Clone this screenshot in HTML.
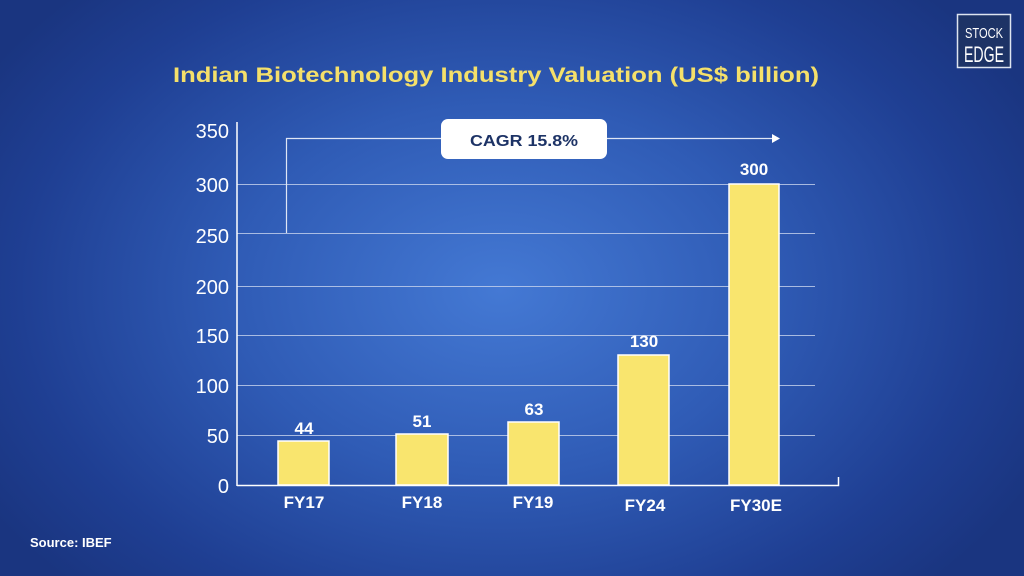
<!DOCTYPE html>
<html><head><meta charset="utf-8"><style>
html,body{margin:0;padding:0}
body{width:1024px;height:576px;overflow:hidden;background:radial-gradient(ellipse 600px 420px at 500px 290px,#4479d4 0%,#2f5bb5 45%,#1f3f93 80%,#1a3580 100%);font-family:"Liberation Sans",sans-serif;position:relative}
</style></head><body>
<svg width="1024" height="576" style="position:absolute;left:0;top:0" font-family="Liberation Sans, sans-serif">
<text x="496" y="82" text-anchor="middle" fill="#f5e06a" font-weight="bold" font-size="21" textLength="646" lengthAdjust="spacingAndGlyphs">Indian Biotechnology Industry Valuation (US$ billion)</text>
<rect x="957.5" y="14.5" width="53" height="53" fill="#1d3366" stroke="#dde4f0" stroke-width="1.5"/>
<text x="984" y="38" text-anchor="middle" fill="#fff" font-size="15" textLength="38" lengthAdjust="spacingAndGlyphs">STOCK</text>
<text x="984" y="62" text-anchor="middle" fill="#fff" font-size="22" textLength="40" lengthAdjust="spacingAndGlyphs">EDGE</text>
<g stroke="#c8d4ee" stroke-width="1" opacity="0.8">
<line x1="237" y1="435.5" x2="815" y2="435.5"/>
<line x1="237" y1="385.5" x2="815" y2="385.5"/>
<line x1="237" y1="335.5" x2="815" y2="335.5"/>
<line x1="237" y1="286.5" x2="815" y2="286.5"/>
<line x1="237" y1="233.5" x2="815" y2="233.5"/>
<line x1="237" y1="184.5" x2="815" y2="184.5"/>
</g>
<polyline points="286.5,233 286.5,138.5 772,138.5" fill="none" stroke="#dfe6f5" stroke-width="1.2"/>
<polygon points="772,134 780,138.5 772,143" fill="#fff"/>
<rect x="441" y="119" width="166" height="40" rx="7" fill="#fff"/>
<text x="524" y="146" text-anchor="middle" fill="#1d3366" font-weight="bold" font-size="16" textLength="108" lengthAdjust="spacingAndGlyphs">CAGR 15.8%</text>
<line x1="237" y1="122" x2="237" y2="486" stroke="#fff" stroke-width="1.5"/>
<polyline points="237,485.5 838.5,485.5 838.5,477" fill="none" stroke="#fff" stroke-width="1.5"/>
<g fill="#fff" font-size="20" text-anchor="end">
<text x="229" y="493">0</text><text x="229" y="443">50</text><text x="229" y="393">100</text><text x="229" y="343">150</text><text x="229" y="294">200</text><text x="229" y="243">250</text><text x="229" y="192">300</text><text x="229" y="138">350</text>
</g>
<g fill="#f9e56e" stroke="#fff" stroke-width="1.5">
<rect x="278" y="441" width="51" height="44"/>
<rect x="396" y="434" width="52" height="51"/>
<rect x="508" y="422" width="51" height="63"/>
<rect x="618" y="355" width="51" height="130"/>
<rect x="729" y="184" width="50" height="301"/>
</g>
<g fill="#fff" font-size="17" font-weight="bold" text-anchor="middle">
<text x="304" y="434">44</text><text x="422" y="427">51</text><text x="534" y="415">63</text><text x="644" y="347">130</text><text x="754" y="175">300</text>
<text x="304" y="508">FY17</text><text x="422" y="508">FY18</text><text x="533" y="508">FY19</text><text x="645" y="511">FY24</text><text x="756" y="511">FY30E</text>
</g>
<text x="30" y="547" fill="#fff" font-weight="bold" font-size="13">Source: IBEF</text>
</svg>
</body></html>
